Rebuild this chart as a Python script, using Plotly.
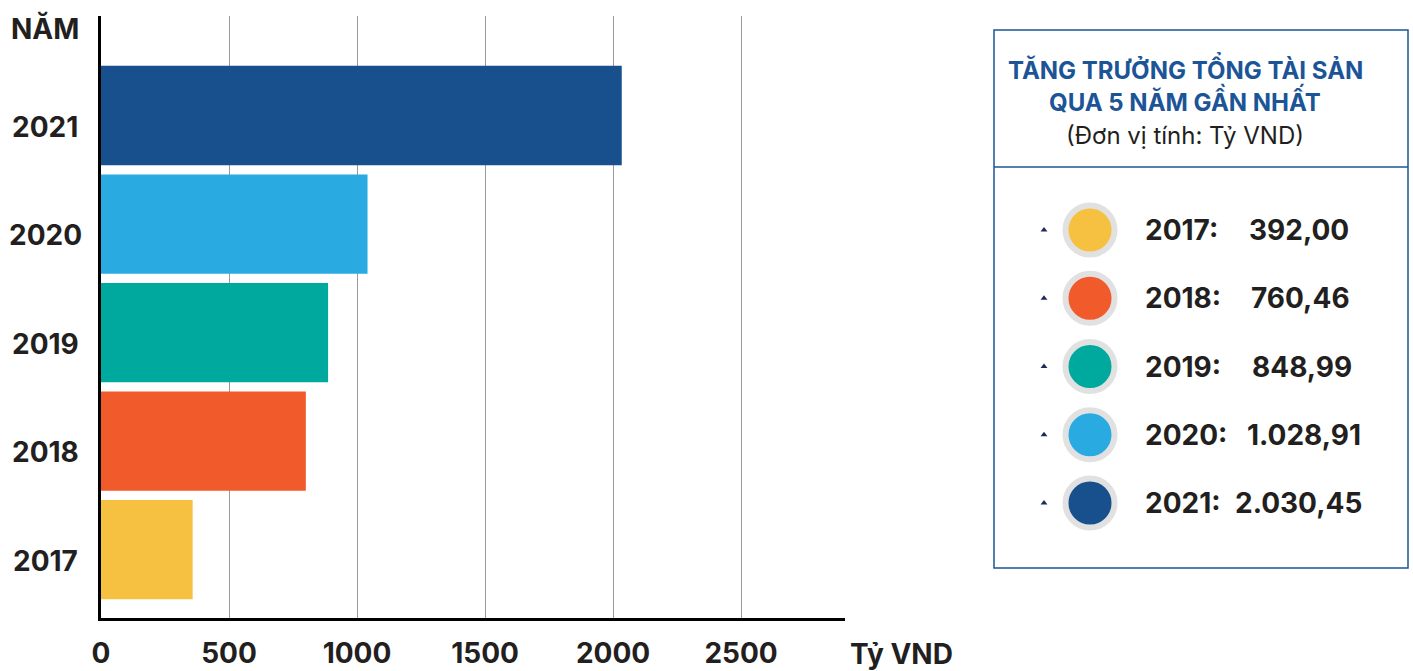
import plotly.graph_objects as go

W, H = 1413, 671

years = ["2017", "2018", "2019", "2020", "2021"]
bar_values = [358, 800, 887, 1041, 2034]          # bar lengths as drawn (Tỷ VND)
label_values = ["392,00", "760,46", "848,99", "1.028,91", "2.030,45"]
colors = ["#F6C141", "#F15A2B", "#00A99D", "#29ABE2", "#17508D"]
x_ticks = [0, 500, 1000, 1500, 2000, 2500]

title_blue = "#1B5597"
text_dark = "#231F20"
FONT = "Inter"

def px_x(p):
    return p / W

def px_y(p):
    return 1 - p / H

idx = list(range(len(years)))

fig = go.Figure()

fig.add_trace(go.Bar(
    y=idx, x=bar_values, orientation="h",
    marker=dict(color=colors, line=dict(width=0)),
    width=0.915, hoverinfo="skip", showlegend=False,
    xaxis="x", yaxis="y",
))

# Legend panel markers (circles with grey ring + small triangles)
fig.add_trace(go.Scatter(
    x=[1090] * len(years), y=idx,
    mode="markers",
    marker=dict(size=49, color=colors, line=dict(width=6, color="#E1E1E1")),
    hoverinfo="skip", showlegend=False, xaxis="x2", yaxis="y2",
))
fig.add_trace(go.Scatter(
    x=[1044] * len(years), y=idx,
    mode="markers",
    marker=dict(size=6, symbol="triangle-up", color="#1F2A5C", line=dict(width=0)),
    hoverinfo="skip", showlegend=False, xaxis="x2", yaxis="y2",
))

big = dict(family=FONT, size=28, color=text_dark, weight=700)

annotations = []
# Year labels (left of bars)
for i, y in enumerate(years):
    annotations.append(dict(
        x=px_x(45), xref="paper", y=i, yref="y", yshift=-11,
        text=y, showarrow=False, xanchor="center", yanchor="middle", font=big,
    ))
annotations.append(dict(
    x=px_x(45), xref="paper", y=px_y(29), yref="paper",
    text="NĂM", showarrow=False, xanchor="center", yanchor="middle", font=big,
))
annotations.append(dict(
    x=px_x(848), xref="paper", y=px_y(654), yref="paper",
    text="Tỷ VND", showarrow=False, xanchor="left", yanchor="middle", font=big,
))
# Panel title
annotations.append(dict(
    x=px_x(1185), xref="paper", y=px_y(68), yref="paper",
    text="TĂNG TRƯỞNG TỔNG TÀI SẢN", showarrow=False, xanchor="center", yanchor="middle",
    font=dict(family=FONT, size=24, color=title_blue, weight=700),
))
annotations.append(dict(
    x=px_x(1185), xref="paper", y=px_y(100), yref="paper",
    text="QUA 5 NĂM GẦN NHẤT", showarrow=False, xanchor="center", yanchor="middle",
    font=dict(family=FONT, size=24, color=title_blue, weight=700),
))
annotations.append(dict(
    x=px_x(1185), xref="paper", y=px_y(135), yref="paper",
    text="(Đơn vị tính: Tỷ VND)", showarrow=False, xanchor="center", yanchor="middle",
    font=dict(family=FONT, size=24, color=text_dark, weight=400),
))
# Legend rows
value_x = [1247, 1249, 1250, 1245, 1233]
for i, (y, v) in enumerate(zip(years, label_values)):
    annotations.append(dict(
        x=1143, xref="x2", y=i, yref="y2",
        text=y + ":", showarrow=False, xanchor="left", yanchor="middle", font=big,
    ))
    annotations.append(dict(
        x=value_x[i], xref="x2", y=i, yref="y2",
        text=v, showarrow=False, xanchor="left", yanchor="middle", font=big,
    ))

shapes = [
    dict(type="rect", xref="paper", yref="paper",
         x0=px_x(994), x1=px_x(1408), y0=px_y(568), y1=px_y(30),
         line=dict(color=title_blue, width=1.5), fillcolor="rgba(0,0,0,0)"),
    dict(type="line", xref="paper", yref="paper",
         x0=px_x(994), x1=px_x(1408), y0=px_y(167), y1=px_y(167),
         line=dict(color=title_blue, width=1.5)),
]

fig.update_layout(
    template="none",
    width=W, height=H, autosize=False,
    margin=dict(l=0, r=0, t=0, b=0, pad=0),
    paper_bgcolor="white", plot_bgcolor="white",
    font=dict(family=FONT, color=text_dark),
    xaxis=dict(
        domain=[px_x(101), px_x(845)], range=[0, 2906], automargin=False,
        tickvals=x_ticks, ticktext=[str(t) for t in x_ticks],
        showgrid=True, gridcolor="#9A9A9A", gridwidth=1,
        zeroline=False, showline=True, linecolor="black", linewidth=2.5,
        ticks="", ticklabelstandoff=9,
        tickfont=big,
        fixedrange=True,
    ),
    yaxis=dict(
        domain=[px_y(618), px_y(16)], automargin=False,
        range=[-0.63, 4.917],
        showticklabels=False, showgrid=False, zeroline=False,
        showline=True, linecolor="black", linewidth=2.5, ticks="",
        fixedrange=True,
    ),
    xaxis2=dict(
        domain=[px_x(994), px_x(1408)], range=[994, 1408], automargin=False,
        visible=False, fixedrange=True, anchor="y2",
    ),
    yaxis2=dict(
        domain=[px_y(555), px_y(180)], range=[4.762, -0.733], automargin=False,
        visible=False, fixedrange=True, anchor="x2",
    ),
    annotations=annotations,
    shapes=shapes,
)

fig.write_html(
    "out.html",
    config={"displayModeBar": False},
    post_script="document.body.style.margin='0';document.body.style.overflow='hidden';",
)
